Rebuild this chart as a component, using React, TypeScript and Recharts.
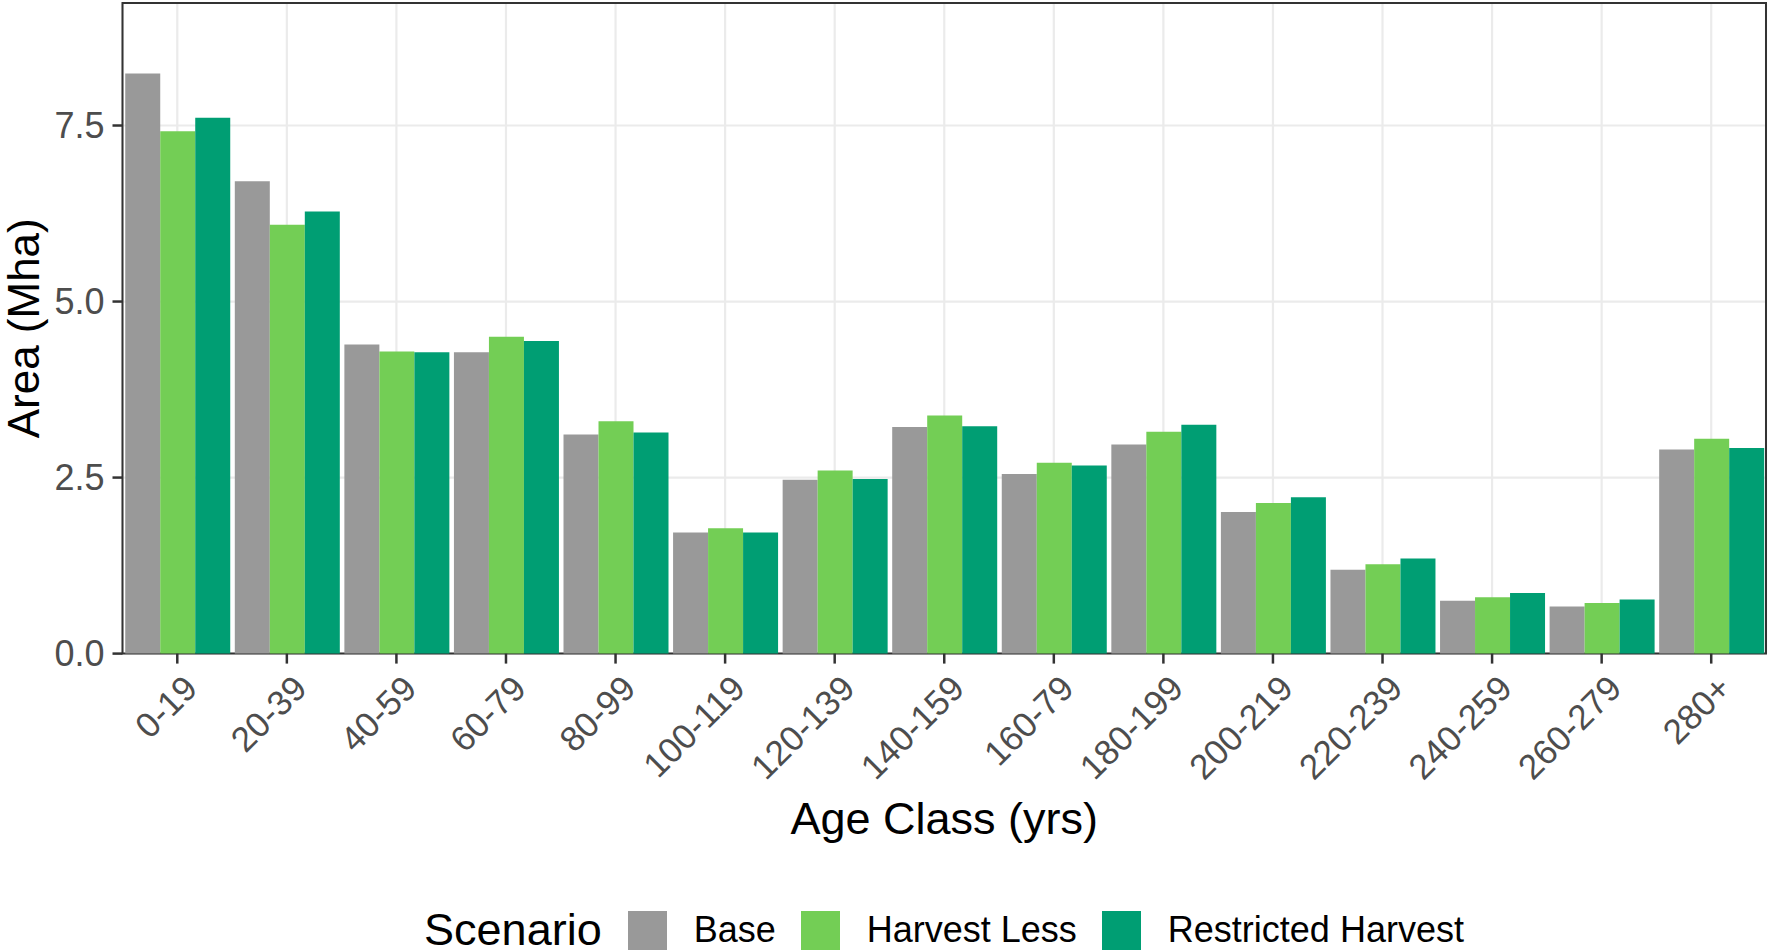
import React from 'react';
import { BarChart, Bar, XAxis, YAxis, CartesianGrid, Legend, ReferenceArea } from 'recharts';

// Area by age class for each harvest scenario (Mha)
const ageClasses = ['0-19', '20-39', '40-59', '60-79', '80-99', '100-119', '120-139', '140-159', '160-79', '180-199', '200-219', '220-239', '240-259', '260-279', '280+'];
const baseArea = [8.24, 6.71, 4.39, 4.28, 3.11, 1.72, 2.47, 3.22, 2.55, 2.97, 2.01, 1.19, 0.75, 0.67, 2.9];
const harvestLessArea = [7.42, 6.09, 4.29, 4.5, 3.3, 1.78, 2.6, 3.38, 2.71, 3.15, 2.14, 1.27, 0.8, 0.72, 3.05];
const restrictedArea = [7.61, 6.28, 4.28, 4.44, 3.14, 1.72, 2.48, 3.23, 2.67, 3.25, 2.22, 1.35, 0.86, 0.77, 2.92];
const yTicks = [0, 2.5, 5, 7.5];
const yMax = 9.24;

const scenarios = [
  { key: 'base', name: 'Base', color: '#999999' },
  { key: 'harvestLess', name: 'Harvest Less', color: '#73CE55' },
  { key: 'restricted', name: 'Restricted Harvest', color: '#009E73' },
];

const rows = ageClasses.map((age, i) => ({
  age,
  base: baseArea[i],
  harvestLess: harvestLessArea[i],
  restricted: restrictedArea[i],
}));

const FONT = '"Liberation Sans", Arial, Helvetica, sans-serif';

const AgeTick = (props: any) => {
  const { x, y, payload } = props;
  const ax = x + 22;
  const ay = y + 25;
  return (
    <text
      x={ax}
      y={ay}
      textAnchor="end"
      transform={`rotate(-45, ${ax}, ${ay})`}
      fontSize={35}
      fill="#4d4d4d"
      fontFamily={FONT}
    >
      {payload.value}
    </text>
  );
};

const ScenarioLegend = () => (
  <div
    style={{
      display: 'flex',
      alignItems: 'center',
      justifyContent: 'center',
      height: 44,
      paddingLeft: 122,
      boxSizing: 'border-box',
      fontFamily: FONT,
      color: '#000',
    }}
  >
    <span style={{ fontSize: 45, marginRight: 26 }}>Scenario</span>
    {scenarios.map((s, i) => (
      <React.Fragment key={s.key}>
        <span style={{ width: 39, height: 39, background: s.color, marginRight: 27, display: 'inline-block' }} />
        <span style={{ fontSize: 36, marginRight: i < scenarios.length - 1 ? 25 : 0 }}>{s.name}</span>
      </React.Fragment>
    ))}
  </div>
);

export default function App() {
  return (
    <div style={{ position: 'absolute', left: 0, top: 0, width: 1770, height: 952, background: '#fff' }}>
      <BarChart
        width={1770}
        height={952}
        data={rows}
        margin={{ top: 3, right: 4, left: 0, bottom: 0 }}
        barCategoryGap="2.5%"
        barGap={0}
      >
        <CartesianGrid stroke="#ebebeb" strokeWidth={2.2} />
        <XAxis
          dataKey="age"
          interval={0}
          height={254.4}
          tickSize={10}
          axisLine={false}
          tickLine={{ stroke: '#333', strokeWidth: 2.5 }}
          tick={<AgeTick />}
          label={{
            content: (p: any) => {
              const vb = p.viewBox;
              return (
                <text x={vb.x + vb.width / 2} y={vb.y + 180} textAnchor="middle" fontSize={45} fontFamily={FONT} fill="#000">
                  Age Class (yrs)
                </text>
              );
            },
          }}
        />
        <YAxis
          width={122.5}
          domain={[0, yMax]}
          ticks={yTicks}
          tickFormatter={(v: number) => v.toFixed(1)}
          tickSize={10}
          tickMargin={8}
          axisLine={false}
          tickLine={{ stroke: '#333', strokeWidth: 2.5 }}
          tick={{ fontSize: 36, fill: '#4d4d4d', fontFamily: FONT }}
          label={{
            content: (p: any) => {
              const vb = p.viewBox;
              const cy = vb.y + vb.height / 2;
              return (
                <text x={39} y={cy} textAnchor="middle" transform={`rotate(-90, 39, ${cy})`} fontSize={44} fontFamily={FONT} fill="#000">
                  Area (Mha)
                </text>
              );
            },
          }}
        />
        {scenarios.map((s) => (
          <Bar key={s.key} dataKey={s.key} name={s.name} fill={s.color} isAnimationActive={false} />
        ))}
        <ReferenceArea y1={0} y2={yMax} fill="none" stroke="#333" strokeWidth={2} />
        <Legend verticalAlign="bottom" content={<ScenarioLegend />} />
      </BarChart>
    </div>
  );
}
